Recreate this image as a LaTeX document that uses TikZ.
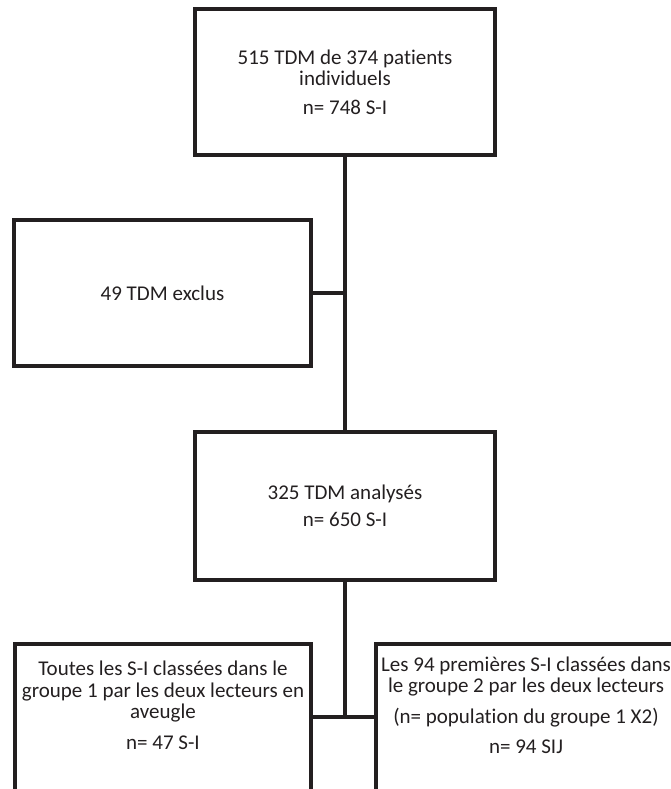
\documentclass[tikz,border=0pt]{standalone}
\usepackage{fontspec}
\setmainfont{Carlito}[Ligatures=NoCommon]
\definecolor{ink}{RGB}{35,31,32}
\tikzset{
  flowbox/.style={draw=ink, text=ink, line width=4.5pt, align=center, inner sep=0pt,
    font=\fontsize{21}{21.5}\selectfont},
  link/.style={draw=ink, line width=4.5pt}
}
\begin{document}
\begin{tikzpicture}[x=1pt, y=-1pt]
  \useasboundingbox (0,0) rectangle (671,789);
  \clip (0,0) rectangle (671,789);

  % Define the boxes of the flow chart
  \node[flowbox, minimum width=300pt, minimum height=146pt] (total) at (345,82)
    {515 TDM de 374 patients\\individuels\\[7pt]n= 748 S-I};
  \node[flowbox, minimum width=297pt, minimum height=146pt] (excl) at (162.5,293)
    {49 TDM exclus};
  \node[flowbox, minimum width=300pt, minimum height=148pt] (analyse) at (345,506)
    {325 TDM analysés\\[6pt]n= 650 S-I};
  \node[flowbox, minimum width=296pt, minimum height=150pt] (blind) at (163,719)
    {Toutes les S-I classées dans le\\groupe 1 par les deux lecteurs en\\aveugle\\[9pt]n= 47 S-I\\[6pt]};
  \node[flowbox, minimum width=300pt, minimum height=150pt] (double) at (526,719)
    {Les 94 premières S-I classées dans\\le groupe 2 par les deux lecteurs\\[9pt](n= population du groupe 1 X2)\\[9pt]n= 94 SIJ\\[6pt]};

  % Connect them
  \coordinate (split) at (345,717);
  \draw[link] (total.south) -- (analyse.north);
  \draw[link] (excl.east) -- (excl.east -| total.south);
  \draw[link] (analyse.south) -- (split);
  \draw[link] (blind.east |- split) -- (double.west |- split);
\end{tikzpicture}
\end{document}
